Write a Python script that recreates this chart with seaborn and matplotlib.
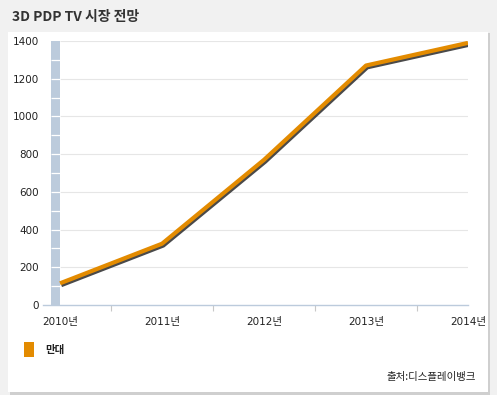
import matplotlib
matplotlib.use('Agg')
import matplotlib.pyplot as plt
import matplotlib.patheffects as pe
from matplotlib.patches import Rectangle
import pandas as pd
import seaborn as sns

years = ['2010년', '2011년', '2012년', '2013년', '2014년']
units = [115, 325, 770, 1270, 1390]  # 만대
yticks = [0, 200, 400, 600, 800, 1000, 1200, 1400]

sns.set_theme(style='white')
plt.rcParams['font.family'] = ['Noto Sans CJK KR', 'DejaVu Sans']
tick_font = ['DejaVu Sans', 'Noto Sans CJK KR']

df = pd.DataFrame({'year': years, 'units': units})
df['pos'] = range(len(years))

fig = plt.figure(figsize=(4.97, 3.95), dpi=100)
fig.patch.set_facecolor('#f1f1f1')

# white panel with soft shadow
W, H = 497, 395
fig.patches.append(Rectangle((10 / W, 1 - 395 / H), 480 / W, 362 / H, transform=fig.transFigure,
                             facecolor='#cfcfcf', edgecolor='none', zorder=-2))
fig.patches.append(Rectangle((8 / W, 1 - 392 / H), 480 / W, 360 / H, transform=fig.transFigure,
                             facecolor='white', edgecolor='none', zorder=-1))

fig.text(12 / W, 1 - 17 / H, '3D PDP TV 시장 전망', fontsize=10, fontweight='bold',
         color='#333333', va='center', ha='left')

ax = fig.add_axes([43 / W, 1 - 305 / H, 425 / W, 264 / H], zorder=2)
ax.set_facecolor('none')

ax.hlines(yticks[1:], 0, 4, color='#e6e6e6', lw=0.8, zorder=1)
# vertical blue bar axis with white notches
ax.axvspan(-0.085, 0.0, color='#bccbdc', lw=0, zorder=2)
ax.hlines(range(100, 1400, 100), -0.085, 0.0, color='white', lw=0.9, zorder=3)

sns.lineplot(data=df, x='pos', y='units', color='#e38b00', lw=3.0, ax=ax, zorder=5)
ax.lines[-1].set_path_effects([
    pe.SimpleLineShadow(offset=(0.9, -1.3), shadow_color='#2a2a2a', alpha=0.85),
    pe.Normal(),
])
ax.lines[-1].set_solid_capstyle('butt')

ax.set_xlim(-0.167, 4)
ax.set_ylim(0, 1400)
ax.set_xticks(range(len(years)))
ax.set_xticklabels(years)
ax.set_xticks([0.5, 1.5, 2.5, 3.5], minor=True)
ax.set_yticks(yticks)
ax.set_xlabel('')
ax.set_ylabel('')
for lab in ax.get_xticklabels() + ax.get_yticklabels():
    lab.set_family(tick_font)

for s in ['top', 'right', 'left']:
    ax.spines[s].set_visible(False)
ax.spines['bottom'].set_color('#bccbdc')
ax.spines['bottom'].set_linewidth(1)

ax.tick_params(axis='x', which='major', length=0, pad=9, labelsize=7.5, labelcolor='#222222')
ax.tick_params(axis='x', which='minor', length=4, direction='out', color='#c8c8c8', width=0.8)
ax.tick_params(axis='y', length=5, direction='in', color='#c8c8c8', width=0.8, pad=3,
               labelsize=7.5, labelcolor='#222222')
ax.xaxis.set_tick_params(which='minor', bottom=True)

# legend
fig.patches.append(Rectangle((24 / W, 1 - 357 / H), 10 / W, 15 / H, transform=fig.transFigure,
                             facecolor='#e38b00', edgecolor='none'))
fig.text(45 / W, 1 - 350 / H, '만대', fontsize=7.5, fontweight='bold', color='#222222',
         va='center', ha='left')

fig.text(476 / W, 1 - 377 / H, '출처:디스플레이뱅크', fontsize=7.5, color='#222222',
         va='center', ha='right')

fig.savefig('out.png', dpi=100, facecolor=fig.get_facecolor())
